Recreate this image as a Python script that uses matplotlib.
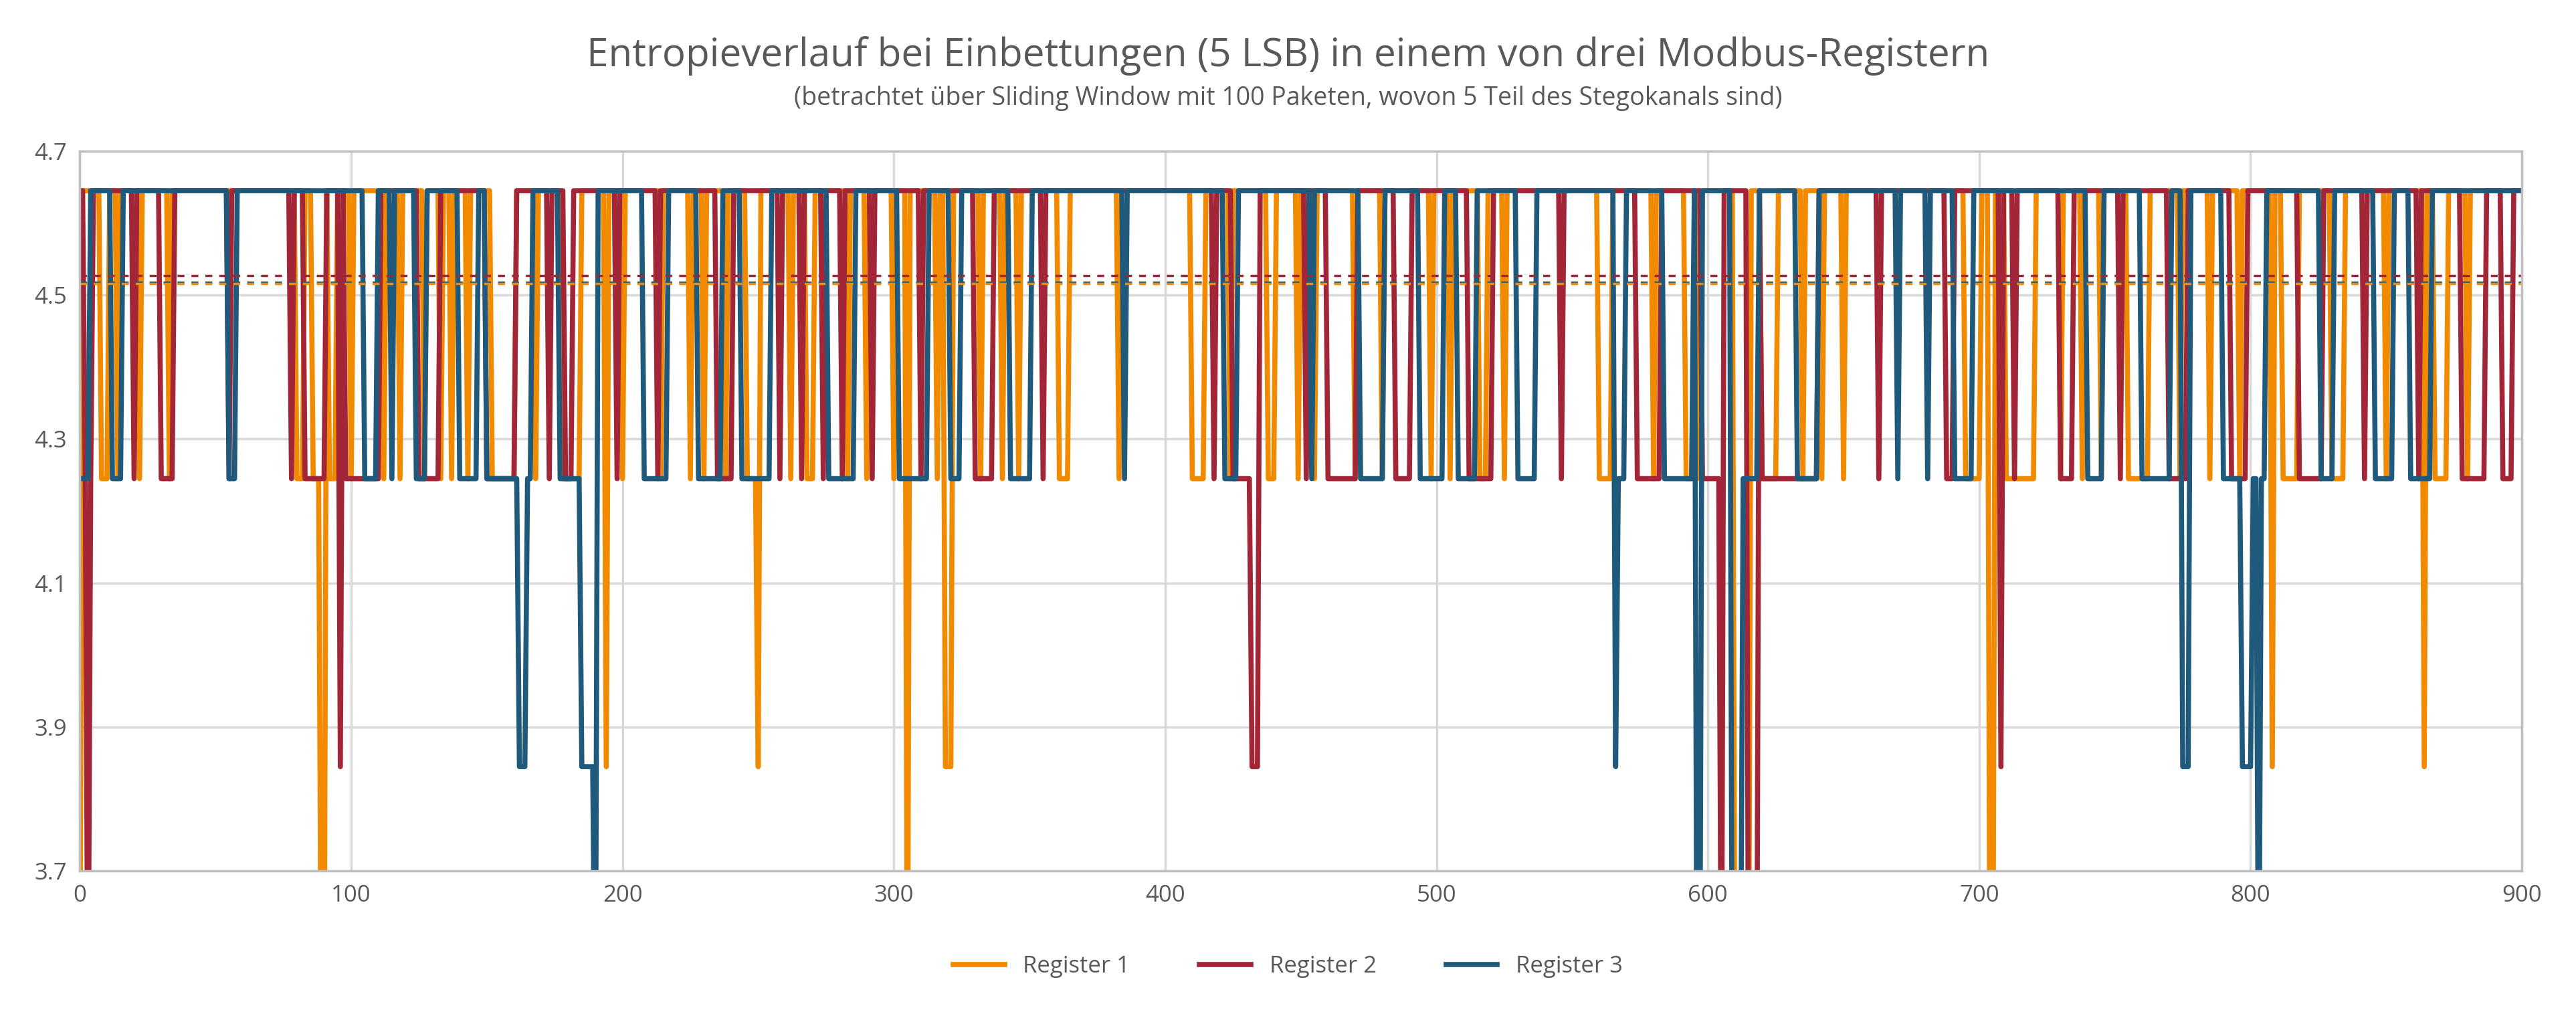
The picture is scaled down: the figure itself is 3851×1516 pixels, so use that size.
import matplotlib.pyplot as plt
import numpy as np

plt.rcParams['font.family'] = ['Open Sans', 'DejaVu Sans']

n = 901
top = 4.645
mid = 4.245
low = 3.845
deep = 3.445

# dips, (start, end) packet index
r1_mid = [(8,10),(14,14),(22,22),(33,33),(80,82),(86,88),(92,94),(100,100),(112,112),(118,118),(127,127),
          (133,133),(137,137),(143,143),(152,160),(168,168),(178,184),(200,200),(214,214),(225,225),(230,230),
          (238,238),(246,250),(262,262),(268,270),(283,283),(290,290),(300,300),(316,316),(332,332),(340,340),
          (346,346),(361,364),(383,383),(410,414),(424,424),(438,440),(449,449),(455,455),(470,470),(480,480),
          (498,498),(505,505),(516,518),(525,525),(560,564),(580,580),(592,596),(620,625),(635,635),(642,642),
          (650,650),(695,700),(710,720),(730,730),(738,738),(745,745),(755,762),(774,774),(785,785),(796,796),
          (812,817),(830,834),(850,850),(868,872),(880,880)]
r1_low = [(194,194),(250,250),(319,321),(808,808),(864,864)]
r1_deep = [(0,0),(89,90),(305,305),(610,615),(704,705)]

r2_mid = [(2,4),(20,20),(30,34),(55,55),(78,78),(83,90),(98,110),(125,132),(150,160),(173,173),(179,181),
          (198,198),(213,213),(235,240),(258,258),(266,266),(274,274),(281,281),(292,292),(310,310),(330,336),
          (355,355),(418,418),(425,432),(452,452),(460,470),(485,490),(512,520),(546,546),(574,582),(598,604),
          (620,640),(663,663),(688,690),(713,713),(730,734),(752,752),(770,776),(793,798),(818,826),(842,842),
          (862,862),(878,886),(893,896)]
r2_low = [(96,96),(432,434),(708,708)]
r2_deep = [(3,3),(605,605),(615,618)]

r3_mid = [(0,3),(12,15),(55,57),(105,109),(115,115),(124,127),(140,146),(150,166),(177,185),(208,216),
          (228,236),(244,254),(276,285),(302,312),(321,324),(343,350),(385,385),(422,426),(454,454),(472,480),
          (494,502),(508,514),(530,536),(566,569),(584,594),(611,618),(633,640),(670,670),(681,681),(691,697),
          (740,745),(760,770),(790,805),(826,830),(846,852),(859,866)]
r3_low = [(162,164),(185,189),(566,566),(775,777),(797,800)]
r3_deep = [(190,190),(596,597),(609,612),(803,803)]

# average lines (dotted)
mean1 = 4.516
mean2 = 4.527
mean3 = 4.518


def build(mids, lows, deeps):
    y = np.full(n, top)
    for lvl, rng in [(mid, mids), (low, lows), (deep, deeps)]:
        for a, b in rng:
            y[a:b+1] = lvl
    return y


x = np.arange(n)
y1 = build(r1_mid, r1_low, r1_deep)
y2 = build(r2_mid, r2_low, r2_deep)
y3 = build(r3_mid, r3_low, r3_deep)

c1 = '#F28A00'
c2 = '#A22638'
c3 = '#1F5A7C'

fig = plt.figure(figsize=(38.51, 15.16), dpi=100)
ax = fig.add_axes([0.031, 0.141, 0.948, 0.71])
ax.plot(x, y1, color=c1, lw=5.5, label='Register 1')
ax.plot(x, y2, color=c2, lw=5.5, label='Register 2')
ax.plot(x, y3, color=c3, lw=5.5, label='Register 3')
ax.axhline(mean2, color=c2, lw=2.5, ls=(0, (3, 3)))
ax.axhline(mean3, color=c3, lw=2.5, ls=(0, (3, 3)))
ax.axhline(mean1, color=c1, lw=2.5, ls=(0, (3, 3)))

ax.set_xlim(0, 900)
ax.set_ylim(3.7, 4.7)
ax.set_xticks(range(0, 901, 100))
ax.set_yticks([3.7, 3.9, 4.1, 4.3, 4.5, 4.7])
ax.set_yticklabels(['3.7', '3.9', '4.1', '4.3', '4.5', '4.7'])
ax.grid(True, color='#D9D9D9', lw=2.5)
ax.set_axisbelow(True)
for s in ax.spines.values():
    s.set_color('#BFBFBF')
    s.set_linewidth(2.5)
ax.tick_params(length=0, labelsize=25, colors='#595959', pad=14)

fig.text(0.5, 0.945, 'Entropieverlauf bei Einbettungen (5 LSB) in einem von drei Modbus-Registern',
         ha='center', va='center', fontsize=42, color='#595959')
fig.text(0.5, 0.903, '(betrachtet über Sliding Window mit 100 Paketen, wovon 5 Teil des Stegokanals sind)',
         ha='center', va='center', fontsize=27, color='#595959')
leg = fig.legend(loc='center', bbox_to_anchor=(0.5, 0.047), ncol=3, frameon=False, fontsize=25,
                 handlelength=2.2, columnspacing=3)
for t in leg.get_texts():
    t.set_color('#595959')

fig.savefig('out.png')
